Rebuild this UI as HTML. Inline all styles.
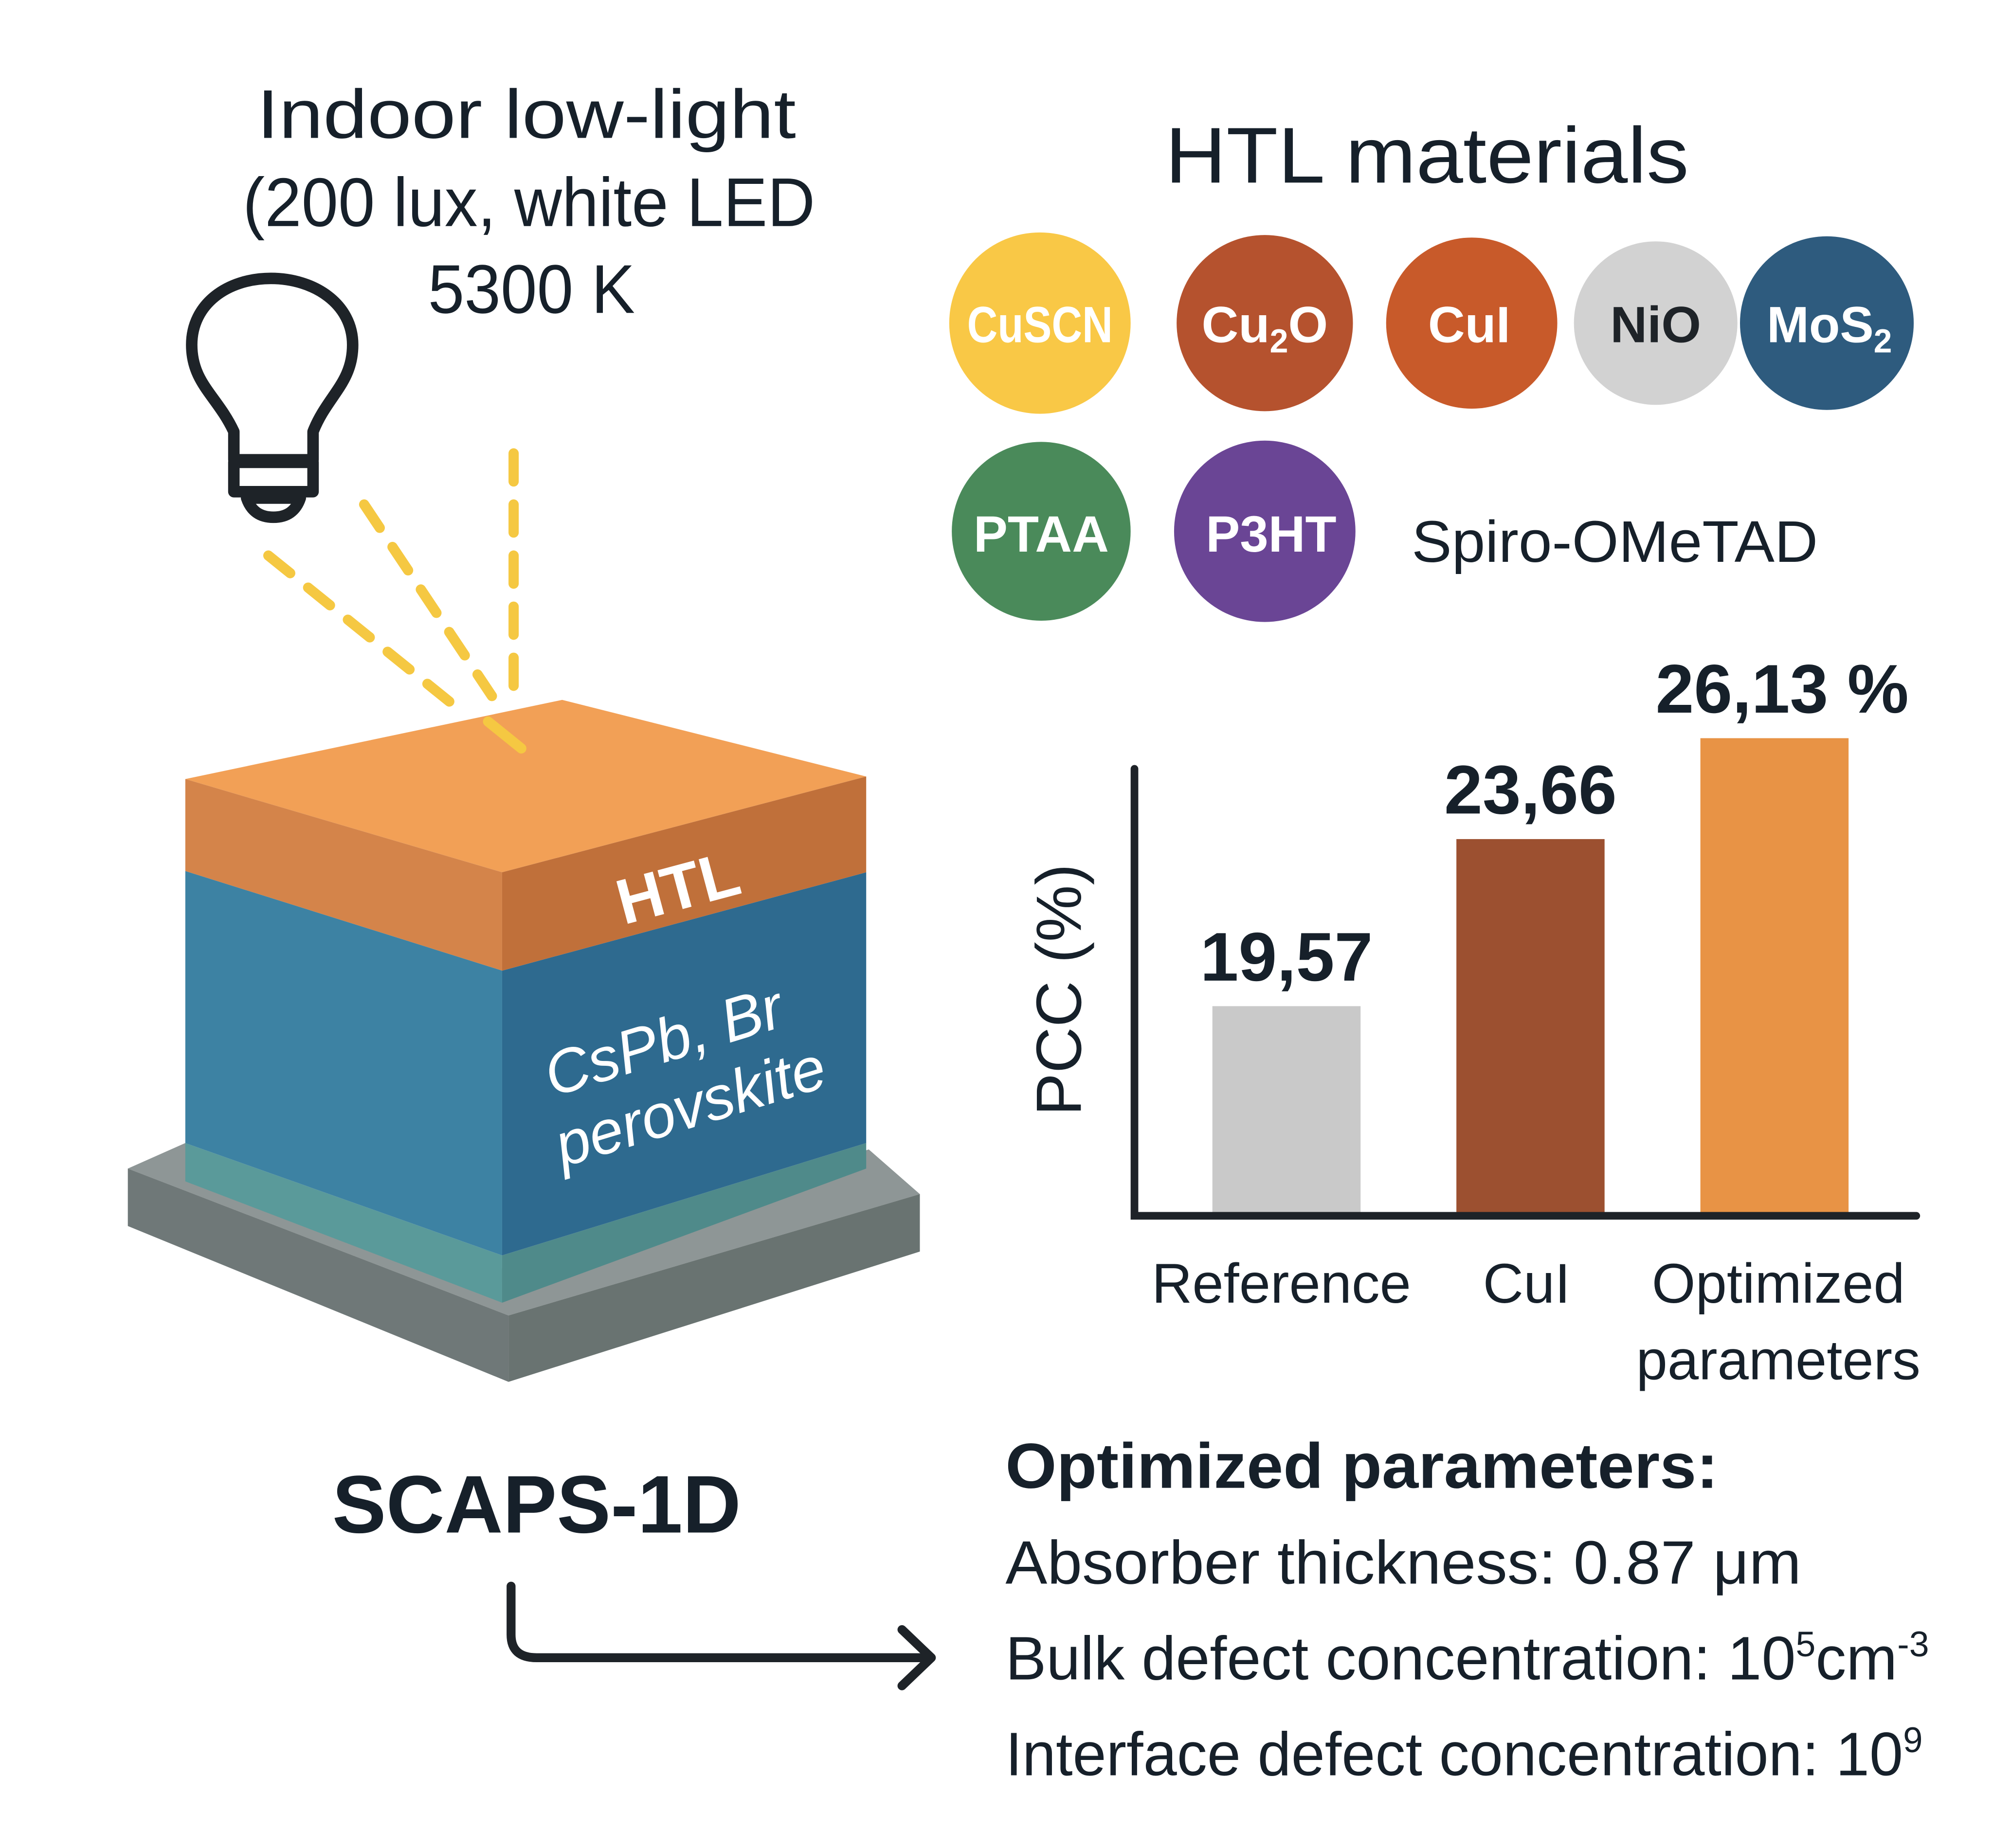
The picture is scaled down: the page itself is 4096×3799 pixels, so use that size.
<!DOCTYPE html>
<html><head><meta charset="utf-8"><style>
html,body{margin:0;padding:0;background:#fff;}
svg{display:block;}
text{font-family:"Liberation Sans","DejaVu Sans",sans-serif;}
</style></head><body>
<svg id="root" width="4096" height="3799" viewBox="0 0 1560 1447" xmlns="http://www.w3.org/2000/svg">
<rect width="1560" height="1447" fill="#fff"/>
<g fill="#16202a" text-anchor="middle" font-size="54">
<text x="412" y="108" textLength="422" lengthAdjust="spacingAndGlyphs">Indoor low-light</text>
<text x="414" y="177" textLength="448" lengthAdjust="spacingAndGlyphs">(200 lux, white LED</text>
<text x="416" y="245" textLength="162" lengthAdjust="spacingAndGlyphs">5300 K</text>
</g>
<g fill="none" stroke="#1e2328" stroke-width="9" stroke-linecap="round" stroke-linejoin="round">
<path d="M183,360 L183,338 C170,310 150,300 150,270 C150,238 178,218 212,218 C246,218 276,238 276,270 C276,300 256,310 245,338 L245,360 Z"/>
<path d="M183,362 L245,362 L245,385 L183,385 Z"/>
<path d="M193,390 L235,390 Q230,405 214,405 Q198,405 193,390 Z"/>
</g>
<g stroke="#f5c842" stroke-width="8" stroke-linecap="round" stroke-dasharray="22 18" fill="none">
<line x1="210" y1="435" x2="355" y2="552"/>
<line x1="285" y1="395" x2="385" y2="545"/>
<line x1="402" y1="355" x2="402" y2="538"/>
</g>
<g>
<polygon points="100,915 398,1030 720,935 680,900 398,995 145,895" fill="#8e9696"/>
<polygon points="100,915 398,1030 398,1082 100,960" fill="#6f7878"/>
<polygon points="398,1030 720,935 720,980 398,1082" fill="#697371"/>
<polygon points="145,895 393,983 393,1020 145,925" fill="#5a9a9a"/>
<polygon points="393,983 678,895 678,915 393,1020" fill="#4f8a8a"/>
<polygon points="145,682 393,760 393,983 145,895" fill="#3d82a3"/>
<polygon points="393,760 678,683 678,895 393,983" fill="#2e6a8f"/>
<polygon points="145,610 440,548 678,608 393,683" fill="#f2a056"/>
<polygon points="145,610 393,683 393,760 145,682" fill="#d4844a"/>
<polygon points="393,683 678,608 678,683 393,760" fill="#c0703a"/>
<line x1="382" y1="565" x2="408" y2="586" stroke="#f5c842" stroke-width="8" stroke-linecap="round"/>
<text x="532" y="712" fill="#fff" font-size="50" font-weight="bold" text-anchor="middle" transform="rotate(-15 532 700)">HTL</text>
<g fill="#fff" font-size="48" font-style="italic" text-anchor="middle" transform="rotate(-17 530 850)">
<text x="530" y="830">CsPb, Br</text>
<text x="535" y="885">perovskite</text>
</g>
</g>
<text x="420" y="1200" fill="#16202a" font-size="64" font-weight="bold" text-anchor="middle" textLength="320" lengthAdjust="spacingAndGlyphs">SCAPS-1D</text>
<g fill="none" stroke="#1e2328" stroke-width="7" stroke-linecap="round" stroke-linejoin="round">
<path d="M400,1242 V1280 Q400,1298 420,1298 H728"/>
<path d="M706,1276 L729,1298 L706,1320"/>
</g>
<text x="1117" y="143" fill="#16202a" font-size="62" text-anchor="middle" textLength="410" lengthAdjust="spacingAndGlyphs">HTL materials</text>
<g font-weight="bold" text-anchor="middle" font-size="40">
<g><circle cx="814" cy="253" r="71" fill="#f9c846"/><text x="814" y="268" fill="#fff" textLength="114" lengthAdjust="spacingAndGlyphs">CuSCN</text></g>
<g><circle cx="990" cy="253" r="69" fill="#b5522e"/><text x="990" y="268" fill="#fff">Cu<tspan font-size="26" dy="8">2</tspan><tspan dy="-8">O</tspan></text></g>
<g><circle cx="1152" cy="253" r="67" fill="#c85a2a"/><text x="1150" y="268" fill="#fff">CuI</text></g>
<g><circle cx="1296" cy="253" r="64" fill="#d2d2d2"/><text x="1296" y="268" fill="#1e2328">NiO</text></g>
<g><circle cx="1430" cy="253" r="68" fill="#2e5b7e"/><text x="1432" y="268" fill="#fff" textLength="98" lengthAdjust="spacingAndGlyphs">MoS<tspan font-size="26" dy="8">2</tspan></text></g>
<g><circle cx="815" cy="416" r="70" fill="#4a8a5a"/><text x="815" y="432" fill="#fff">PTAA</text></g>
<g><circle cx="990" cy="416" r="71" fill="#6a4595"/><text x="995" y="432" fill="#fff">P3HT</text></g>
<text x="1105" y="440" fill="#16202a" font-weight="normal" font-size="46" text-anchor="start" textLength="318" lengthAdjust="spacingAndGlyphs">Spiro-OMeTAD</text>
</g>
<g id="chart"></g>
<g fill="#16202a">
<text x="787" y="1165" font-size="50" font-weight="bold" textLength="558" lengthAdjust="spacingAndGlyphs">Optimized parameters:</text>
<text x="787" y="1240" font-size="48" textLength="623" lengthAdjust="spacingAndGlyphs">Absorber thickness: 0.87 μm</text>
<text x="787" y="1315" font-size="48" textLength="723" lengthAdjust="spacingAndGlyphs">Bulk defect concentration: 10<tspan font-size="28" dy="-18">5</tspan><tspan dy="18">cm</tspan><tspan font-size="28" dy="-18">-3</tspan></text>
<text x="787" y="1390" font-size="48" textLength="718" lengthAdjust="spacingAndGlyphs">Interface defect concentration: 10<tspan font-size="28" dy="-18">9</tspan></text>
</g>
</svg>
<script>
const categories = ["Reference", "CuI", "Optimized"];
const values = [19.57, 23.66, 26.13];
const valueLabels = ["19,57", "23,66", "26,13 %"];
const barColors = ["#c9c9c9", "#9c5030", "#e89345"];
const NS = "http://www.w3.org/2000/svg";
const chart = document.getElementById("chart");
const yMin = 14.5, yMax = 26.13, baseY = 950, topY = 578;
function yScale(v){ return baseY - (v - yMin) / (yMax - yMin) * (baseY - topY); }
const xCenters0 = 1007, xStep = 191, barW = 116;
function xScale(i){ return xCenters0 + i * xStep; }
function mk(tag, attrs){ const e = document.createElementNS(NS, tag); for (const k in attrs) e.setAttribute(k, attrs[k]); chart.appendChild(e); return e; }
values.forEach((v, i) => {
  const y = yScale(v);
  const r = mk("rect", {x: xScale(i) - barW/2, y: y, width: barW, height: baseY - y, fill: barColors[i]});
  
  
  const t = mk("text", {x: xScale(i) + (i === 2 ? 6 : 0), y: y - 20, "font-size": 54, "font-weight": "bold", "text-anchor": "middle", fill: "#16202a"});
  t.textContent = valueLabels[i];
  
  
});
const ax = mk("path", {d: "M888,602 V952 H1500", fill: "none", stroke: "#1e2328", "stroke-width": 6, "stroke-linecap": "round"});


const yt = mk("text", {x: 0, y: 0, "font-size": 50, "text-anchor": "middle", fill: "#16202a", transform: "translate(846 775) rotate(-90)"});
yt.textContent = "PCC (%)";


const catLines = [["Reference"], ["CuI"], ["Optimized", "parameters"]];
const catX = [1003, 1195, 1392];
catLines.forEach((lines, i) => {
  lines.forEach((s, j) => {
    const t = mk("text", {x: catX[i], y: 1020 + j*60, "font-size": 44, "text-anchor": "middle", fill: "#16202a"});
    t.textContent = s;
    
    
  });
});
</script>
</body></html>
